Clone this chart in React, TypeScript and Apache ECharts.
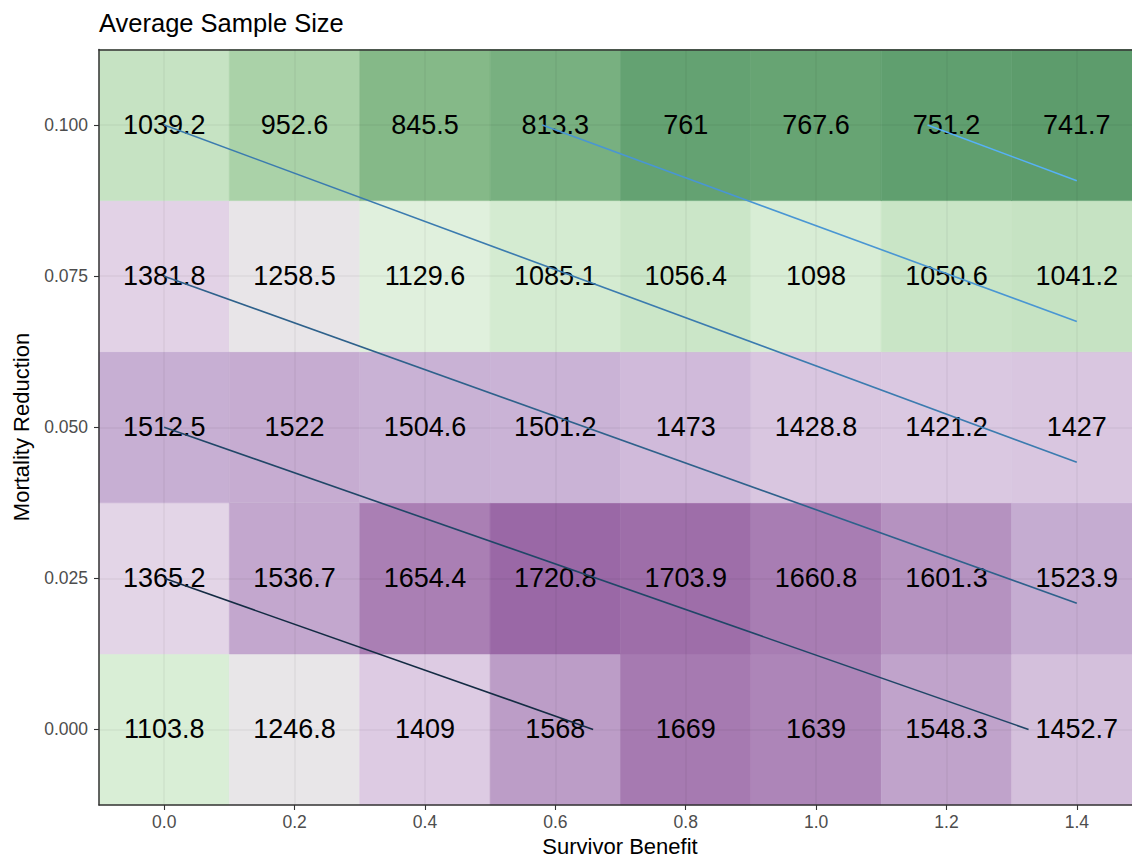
import React, { useEffect, useRef } from "react";
import * as echarts from "echarts";

// Axis categories
const survivorBenefit = [0, 0.2, 0.4, 0.6, 0.8, 1.0, 1.2, 1.4];
const mortalityReduction = [0, 0.025, 0.05, 0.075, 0.1];

// Average sample size, one row per mortality reduction level (left to right by survivor benefit)
const sampleSizeM0000 = [1103.8, 1246.8, 1409, 1568, 1669, 1639, 1548.3, 1452.7];
const sampleSizeM0025 = [1365.2, 1536.7, 1654.4, 1720.8, 1703.9, 1660.8, 1601.3, 1523.9];
const sampleSizeM0050 = [1512.5, 1522, 1504.6, 1501.2, 1473, 1428.8, 1421.2, 1427];
const sampleSizeM0075 = [1381.8, 1258.5, 1129.6, 1085.1, 1056.4, 1098, 1050.6, 1041.2];
const sampleSizeM0100 = [1039.2, 952.6, 845.5, 813.3, 761, 767.6, 751.2, 741.7];
const sampleSizeRows = [sampleSizeM0000, sampleSizeM0025, sampleSizeM0050, sampleSizeM0075, sampleSizeM0100];

// Tick labels
const xTickValues = [0, 0.2, 0.4, 0.6, 0.8, 1.0, 1.2, 1.4];
const yTickValues = [0, 0.025, 0.05, 0.075, 0.1];

// Reference lines: start and end points (survivor benefit, mortality reduction)
const lineStartBenefit = [0, 0, 0, 0, 0.58, 1.171];
const lineStartMortality = [0.025, 0.05, 0.075, 0.1, 0.1, 0.1];
const lineEndBenefit = [0.658, 1.326, 1.4, 1.4, 1.4, 1.4];
const lineEndMortality = [0, 0, 0.0209, 0.0442, 0.0675, 0.0908];

const TILE_W = 0.2;
const TILE_H = 0.025;
const FONT = '"Liberation Sans", Arial, Helvetica, sans-serif';

const lineColors = ["#132B43", "#204667", "#2e618b", "#3b7baf", "#4996d3", "#56B1F7"];
const fillColors = [
  "#5c9c6c",
  "#8dbf8e",
  "#b8dbb5",
  "#dff1dc",
  "#e8e6e8",
  "#e3d3e7",
  "#c9b2d5",
  "#af87b9",
  "#905a9d",
];

export default function App() {
  const ref = useRef<HTMLDivElement>(null);

  useEffect(() => {
    if (!ref.current) return;
    const chart = echarts.init(ref.current, undefined, { renderer: "svg" });

    const tileData: number[][] = [];
    mortalityReduction.forEach((m, r) => {
      survivorBenefit.forEach((b, c) => {
        tileData.push([b, m, sampleSizeRows[r][c]]);
      });
    });

    const gridLine = { show: true, lineStyle: { color: "rgba(0,0,0,0.035)", width: 2 } };
    const borderLine = { show: true, onZero: false, lineStyle: { color: "#333333", width: 1.5 } };
    const tickStyle = { color: "#333333", width: 1.1 };

    const lineSeries = lineStartBenefit.map((sb, i) => ({
      type: "line",
      data: [
        [sb, lineStartMortality[i]],
        [lineEndBenefit[i], lineEndMortality[i]],
      ],
      symbol: "none",
      silent: true,
      z: 6,
      lineStyle: { color: lineColors[i], width: 1.6 },
    }));

    chart.setOption({
      animation: false,
      grid: {
        left: 99,
        width: 1043,
        top: 49.5,
        bottom: 52,
        containLabel: false,
        outerBoundsMode: "none",
      },
      visualMap: {
        type: "continuous",
        show: false,
        min: 740,
        max: 1760,
        dimension: 2,
        seriesIndex: 0,
        inRange: { color: fillColors },
      },
      xAxis: [
        {
          type: "value",
          min: -0.1,
          max: 1.5,
          position: "bottom",
          z: 3,
          axisLine: borderLine,
          axisTick: { show: true, customValues: xTickValues, length: 5, lineStyle: tickStyle },
          axisLabel: {
            customValues: xTickValues,
            formatter: (v: number) => v.toFixed(1),
            margin: 8,
            color: "#4d4d4d",
            fontSize: 17.5,
            fontFamily: FONT,
          },
          splitLine: gridLine,
        },
        {
          type: "value",
          min: -0.1,
          max: 1.5,
          position: "top",
          z: 3,
          axisLine: borderLine,
          axisTick: { show: false },
          axisLabel: { show: false },
          splitLine: { show: false },
        },
      ],
      yAxis: {
        type: "value",
        min: -0.0125,
        max: 0.1125,
        z: 3,
        axisLine: borderLine,
        axisTick: { show: true, customValues: yTickValues, length: 5, lineStyle: tickStyle },
        axisLabel: {
          customValues: yTickValues,
          formatter: (v: number) => v.toFixed(3),
          margin: 11,
          color: "#4d4d4d",
          fontSize: 17.5,
          fontFamily: FONT,
        },
        splitLine: gridLine,
      },
      graphic: [
        {
          type: "text",
          x: 99,
          y: 22.5,
          style: {
            text: "Average Sample Size",
            font: `25.5px ${FONT}`,
            fill: "#000000",
            align: "left",
            verticalAlign: "middle",
          },
        },
        {
          type: "text",
          x: 620,
          y: 846,
          style: {
            text: "Survivor Benefit",
            font: `22px ${FONT}`,
            fill: "#000000",
            align: "center",
            verticalAlign: "middle",
          },
        },
        {
          type: "text",
          x: 21,
          y: 427,
          rotation: Math.PI / 2,
          style: {
            text: "Mortality Reduction",
            font: `22px ${FONT}`,
            fill: "#000000",
            align: "center",
            verticalAlign: "middle",
          },
        },
      ],
      series: [
        {
          type: "custom",
          data: tileData,
          z: 2,
          silent: true,
          encode: { x: 0, y: 1 },
          renderItem: (params: any, api: any) => {
            const x = api.value(0);
            const y = api.value(1);
            const v = api.value(2);
            const p0 = api.coord([x - TILE_W / 2, y + TILE_H / 2]);
            const p1 = api.coord([x + TILE_W / 2, y - TILE_H / 2]);
            const c = api.coord([x, y]);
            const color = api.visual("color");
            return {
              type: "group",
              children: [
                {
                  type: "rect",
                  shape: { x: p0[0], y: p0[1], width: p1[0] - p0[0], height: p1[1] - p0[1] },
                  style: { fill: color, stroke: color, lineWidth: 0.6 },
                },
                {
                  type: "text",
                  x: c[0],
                  y: c[1],
                  z2: 10,
                  style: {
                    text: String(v),
                    font: `27px ${FONT}`,
                    fill: "#000000",
                    align: "center",
                    verticalAlign: "middle",
                  },
                },
              ],
            };
          },
        },
        ...lineSeries,
      ],
    });

    return () => {
      chart.dispose();
    };
  }, []);

  return (
    <div
      ref={ref}
      style={{ position: "absolute", left: 0, top: 0, width: 1132, height: 857, background: "#ffffff" }}
    />
  );
}
